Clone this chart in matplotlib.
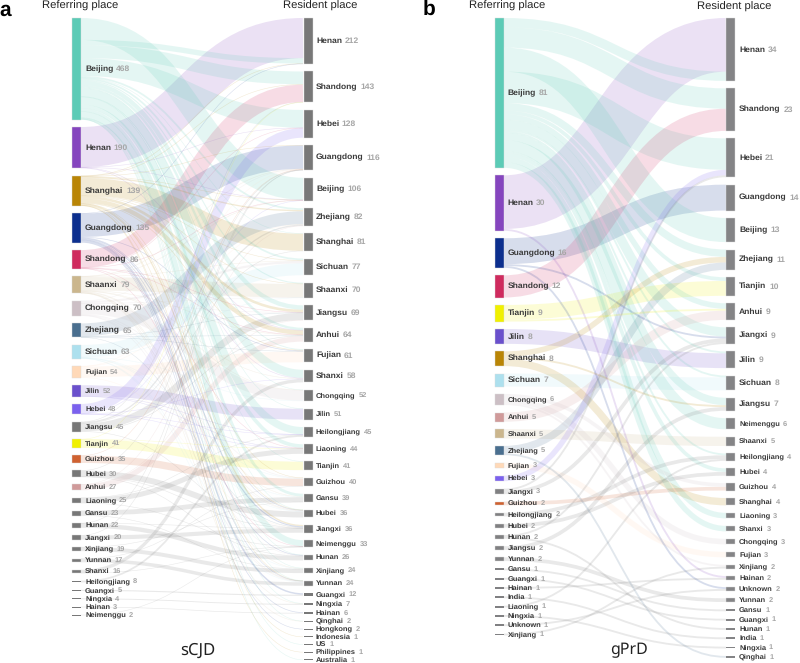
import matplotlib
matplotlib.use("Agg")

import matplotlib.pyplot as plt
from matplotlib.patches import PathPatch, Rectangle
from matplotlib.path import Path

plt.rcParams["font.family"] = ["Liberation Sans", "DejaVu Sans"]
plt.rcParams["text.hinting"] = "no_hinting"

# panel a, sCJD
scjd_left = ["Beijing", "Henan", "Shanghai", "Guangdong", "Shandong", "Shaanxi", "Chongqing", "Zhejiang",
             "Sichuan", "Fujian", "Jilin", "Hebei", "Jiangsu", "Tianjin", "Guizhou", "Hubei", "Anhui",
             "Liaoning", "Gansu", "Hunan", "Jiangxi", "Xinjiang", "Yunnan", "Shanxi", "Heilongjiang",
             "Guangxi", "Ningxia", "Hainan", "Neimenggu"]
scjd_left_values = [468, 190, 139, 135, 86, 79, 70, 65, 63, 54, 52, 48, 45, 41, 35, 30, 27, 25, 23, 22,
                    20, 19, 17, 16, 8, 5, 4, 3, 2]
scjd_right = ["Henan", "Shandong", "Hebei", "Guangdong", "Beijing", "Zhejiang", "Shanghai", "Sichuan",
              "Shaanxi", "Jiangsu", "Anhui", "Fujian", "Shanxi", "Chongqing", "Jilin", "Heilongjiang",
              "Liaoning", "Tianjin", "Guizhou", "Gansu", "Hubei", "Jiangxi", "Neimenggu", "Hunan",
              "Xinjiang", "Yunnan", "Guangxi", "Ningxia", "Hainan", "Qinghai", "Hongkong", "Indonesia",
              "US", "Philippines", "Australia"]
scjd_right_values = [212, 143, 128, 116, 106, 82, 81, 77, 70, 69, 64, 61, 58, 52, 51, 45, 44, 41, 40, 39,
                     36, 36, 33, 26, 24, 24, 12, 7, 6, 2, 2, 1, 1, 1, 1]
scjd_links = {
    "Beijing": {"Beijing": 101, "Henan": 25, "Shandong": 59, "Hebei": 82, "Zhejiang": 8, "Shanghai": 1,
                "Sichuan": 8, "Shaanxi": 5, "Jiangsu": 20, "Anhui": 11, "Fujian": 4, "Shanxi": 38,
                "Chongqing": 1, "Jilin": 1, "Heilongjiang": 34, "Liaoning": 17, "Tianjin": 2, "Gansu": 13,
                "Hubei": 1, "Neimenggu": 28, "Hunan": 1, "Xinjiang": 2, "Yunnan": 1, "Ningxia": 2,
                "Qinghai": 1, "US": 1, "Australia": 1},
    "Henan": {"Henan": 185, "Hebei": 1, "Beijing": 1, "Shanxi": 2, "Anhui": 1},
    "Shanghai": {"Shanghai": 79, "Anhui": 20, "Jiangsu": 12, "Zhejiang": 6, "Jiangxi": 6, "Henan": 1,
                 "Shandong": 2, "Beijing": 1, "Guangdong": 1, "Fujian": 3, "Sichuan": 2, "Philippines": 1,
                 "Indonesia": 1, "Shaanxi": 1, "Hubei": 1, "Yunnan": 1, "Guizhou": 1},
    "Guangdong": {"Guangdong": 108, "Guangxi": 7, "Jiangxi": 5, "Hunan": 3, "Hainan": 3, "Hongkong": 2,
                  "Fujian": 3, "Hubei": 2, "Henan": 1, "Yunnan": 1},
    "Shandong": {"Shandong": 80, "Hebei": 1, "Beijing": 1, "Jiangsu": 1, "Anhui": 1, "Neimenggu": 1,
                 "Liaoning": 1},
    "Shaanxi": {"Shaanxi": 62, "Gansu": 2, "Ningxia": 1, "Qinghai": 1, "Xinjiang": 2, "Chongqing": 1,
                "Sichuan": 2, "Shanxi": 2, "Hubei": 2, "Beijing": 1, "Guangdong": 1, "Yunnan": 1, "Anhui": 1},
    "Chongqing": {"Chongqing": 48, "Sichuan": 10, "Guizhou": 3, "Hubei": 2, "Yunnan": 3, "Jiangsu": 1,
                  "Guangdong": 1, "Hunan": 1, "Shaanxi": 1},
    "Zhejiang": {"Zhejiang": 60, "Anhui": 2, "Jiangxi": 1, "Fujian": 1, "Jiangsu": 1},
    "Sichuan": {"Sichuan": 55, "Chongqing": 2, "Yunnan": 1, "Guizhou": 1, "Xinjiang": 1, "Shaanxi": 1,
                "Gansu": 1, "Hubei": 1},
    "Fujian": {"Fujian": 50, "Jiangxi": 2, "Guangdong": 1, "Zhejiang": 1},
    "Jilin": {"Jilin": 50, "Heilongjiang": 1, "Liaoning": 1},
    "Hebei": {"Hebei": 44, "Shanxi": 1, "Liaoning": 1, "Heilongjiang": 1, "Beijing": 1},
    "Jiangsu": {"Jiangsu": 33, "Zhejiang": 6, "Anhui": 3, "Shandong": 1, "Shanghai": 1, "Jiangxi": 1},
    "Tianjin": {"Tianjin": 39, "Shandong": 1, "Liaoning": 1},
    "Guizhou": {"Guizhou": 34, "Guangdong": 1},
    "Hubei": {"Hubei": 27, "Guangdong": 1, "Hunan": 1, "Jiangxi": 1},
    "Anhui": {"Anhui": 25, "Jiangsu": 1, "Zhejiang": 1},
    "Liaoning": {"Liaoning": 23, "Heilongjiang": 1, "Neimenggu": 1},
    "Gansu": {"Gansu": 22, "Xinjiang": 1},
    "Hunan": {"Hunan": 20, "Guangdong": 1, "Jiangxi": 1},
    "Jiangxi": {"Jiangxi": 19, "Guangdong": 1},
    "Xinjiang": {"Xinjiang": 18, "Gansu": 1},
    "Yunnan": {"Yunnan": 16, "Guizhou": 1},
    "Shanxi": {"Shanxi": 15, "Neimenggu": 1},
    "Heilongjiang": {"Heilongjiang": 8},
    "Guangxi": {"Guangxi": 5},
    "Ningxia": {"Ningxia": 4},
    "Hainan": {"Hainan": 3},
    "Neimenggu": {"Neimenggu": 2},
}

# panel b, gPrD
gprd_left = ["Beijing", "Henan", "Guangdong", "Shandong", "Tianjin", "Jilin", "Shanghai", "Sichuan",
             "Chongqing", "Anhui", "Shaanxi", "Zhejiang", "Fujian", "Hebei", "Jiangxi", "Guizhou",
             "Heilongjiang", "Hubei", "Hunan", "Jiangsu", "Yunnan", "Gansu", "Guangxi", "Hainan", "India",
             "Liaoning", "Ningxia", "Unknown", "Xinjiang"]
gprd_left_values = [81, 30, 16, 12, 9, 8, 8, 7, 6, 5, 5, 5, 3, 3, 3, 2, 2, 2, 2, 2, 2, 1, 1, 1, 1, 1, 1, 1, 1]
gprd_right = ["Henan", "Shandong", "Hebei", "Guangdong", "Beijing", "Zhejiang", "Tianjin", "Anhui", "Jiangxi",
              "Jilin", "Sichuan", "Jiangsu", "Neimenggu", "Shaanxi", "Heilongjiang", "Hubei", "Guizhou",
              "Shanghai", "Liaoning", "Shanxi", "Chongqing", "Fujian", "Xinjiang", "Hainan", "Unknown",
              "Yunnan", "Gansu", "Guangxi", "Hunan", "India", "Ningxia", "Qinghai"]
gprd_right_values = [34, 23, 21, 14, 13, 11, 10, 9, 9, 9, 8, 7, 6, 5, 4, 4, 4, 4, 3, 3, 3, 3, 2, 2, 2, 2,
                     1, 1, 1, 1, 1, 1]
gprd_links = {
    "Beijing": {"Henan": 5, "Shandong": 11, "Beijing": 13, "Hebei": 17, "Zhejiang": 4, "Tianjin": 2, "Anhui": 3,
                "Jiangxi": 5, "Jilin": 1, "Sichuan": 1, "Jiangsu": 4, "Neimenggu": 6, "Heilongjiang": 1,
                "Hubei": 2, "Liaoning": 3, "Shanxi": 3},
    "Henan": {"Henan": 29, "Hainan": 1},
    "Guangdong": {"Guangdong": 14, "Jiangxi": 1, "Unknown": 1},
    "Shandong": {"Shandong": 12},
    "Tianjin": {"Tianjin": 8, "Anhui": 1},
    "Jilin": {"Jilin": 8},
    "Shanghai": {"Shanghai": 4, "Zhejiang": 3, "Jiangsu": 1},
    "Sichuan": {"Sichuan": 7},
    "Chongqing": {"Chongqing": 3, "Guizhou": 2, "Xinjiang": 1},
    "Anhui": {"Anhui": 5},
    "Shaanxi": {"Shaanxi": 5},
    "Zhejiang": {"Zhejiang": 4, "Qinghai": 1},
    "Fujian": {"Fujian": 3},
    "Hebei": {"Hebei": 3},
    "Jiangxi": {"Hebei": 1, "Jiangxi": 2},
    "Guizhou": {"Guizhou": 2},
    "Heilongjiang": {"Heilongjiang": 2},
    "Hubei": {"Hubei": 2},
    "Hunan": {"Hunan": 1, "Jiangxi": 1},
    "Jiangsu": {"Jiangsu": 2},
    "Yunnan": {"Yunnan": 2},
    "Gansu": {"Gansu": 1},
    "Guangxi": {"Guangxi": 1},
    "Hainan": {"Hainan": 1},
    "India": {"India": 1},
    "Liaoning": {"Heilongjiang": 1},
    "Ningxia": {"Ningxia": 1},
    "Unknown": {"Unknown": 1},
    "Xinjiang": {"Xinjiang": 1},
}

place_colors = {
    "Beijing": "#5ccbb6", "Henan": "#8545be", "Shanghai": "#b98506", "Guangdong": "#0c2f8e",
    "Shandong": "#cf2b5e", "Shaanxi": "#cbb68d", "Chongqing": "#ccbfc5", "Zhejiang": "#4a6f8f",
    "Sichuan": "#ade0ee", "Fujian": "#ffd9b8", "Jilin": "#6a50cc", "Hebei": "#7b61ee",
    "Tianjin": "#f0f000", "Guizhou": "#cf6130", "Anhui": "#d09a9a",
}
OTHER_COLOR = "#777777"
TOP_Y = 18
GAP = 7.45


def stack_nodes(names, values, scale):
    y = TOP_Y
    nodes = {}
    for name, value in zip(names, values):
        h = value * scale
        nodes[name] = {"y": y, "h": h, "value": value}
        y += h + GAP
    return nodes


def draw_links(ax, links, nodes_left, nodes_right, x0, x1, scale, first_out):
    left = list(nodes_left)
    left_rank = {n: i for i, n in enumerate(left)}
    right_rank = {n: i for i, n in enumerate(nodes_right)}
    segs = []
    # leaving each referring place, ordered by where the link ends
    for src in left:
        targets = sorted(links[src], key=right_rank.get)
        if src == "Beijing":
            targets = first_out + [t for t in targets if t not in first_out]
        for dst in targets:
            segs.append((src, dst, links[src][dst]))

    ya = {}
    cursor = {}
    for src, dst, val in segs:
        start = cursor.get(src, nodes_left[src]["y"])
        w = val * scale
        ya[(src, dst)] = start + w / 2
        cursor[src] = start + w

    # Henan's own patients sit on top of its node, the rest keep the left order
    def arrive_key(seg):
        if seg[0] == "Henan" and seg[1] == "Henan":
            return -1
        return left_rank[seg[0]]

    yb = {}
    cursor = {}
    for src, dst, val in sorted(segs, key=arrive_key):
        start = cursor.get(dst, nodes_right[dst]["y"])
        w = val * scale
        yb[(src, dst)] = start + w / 2
        cursor[dst] = start + w

    xm = (x0 + x1) / 2
    for src, dst, val in sorted(segs, key=lambda s: -s[2]):
        w = val * scale
        path = Path(
            [(x0, ya[(src, dst)]), (xm, ya[(src, dst)]), (xm, yb[(src, dst)]), (x1, yb[(src, dst)])],
            [Path.MOVETO, Path.CURVE4, Path.CURVE4, Path.CURVE4],
        )
        ax.add_patch(PathPatch(
            path,
            fill=False,
            edgecolor=place_colors.get(src, OTHER_COLOR),
            linewidth=max(w * 0.72, 0.4),
            alpha=0.16,
            capstyle="butt",
            zorder=1,
        ))


def draw_nodes(ax, nodes, x, width, label_x, color_fn):
    for name, node in nodes.items():
        h = max(node["h"], 1.0)
        mid = node["y"] + node["h"] / 2
        ax.add_patch(Rectangle((x, mid - h / 2), width, h, facecolor=color_fn(name),
                               edgecolor="#dddddd", linewidth=0.3 if h > 3 else 0, zorder=3))
        size = 6.1 if node["h"] >= 12.5 else 5.4
        label = ax.text(label_x, mid, name, fontsize=size, fontweight="bold", color="#3a3a3a",
                        ha="left", va="center", zorder=5)
        ax.annotate(str(node["value"]), xy=(1, 0.5), xycoords=label, xytext=(2, 0),
                    textcoords="offset points", fontsize=size, fontweight="bold", color="#a6a6a6",
                    ha="left", va="center", zorder=5)


fig = plt.figure(figsize=(8, 6.63), dpi=100)
ax = fig.add_axes([0, 0, 1, 1])
ax.set_xlim(0, 800)
ax.set_ylim(663, 0)
ax.axis("off")

# panel a
scale_a = 0.217
left_a = stack_nodes(scjd_left, scjd_left_values, scale_a)
right_a = stack_nodes(scjd_right, scjd_right_values, scale_a)
draw_links(ax, scjd_links, left_a, right_a, 81, 303, scale_a, ["Beijing", "Henan", "Shandong", "Hebei"])
draw_nodes(ax, left_a, 72, 9, 85, lambda n: place_colors.get(n, OTHER_COLOR))
draw_nodes(ax, right_a, 303.5, 9, 316, lambda n: "#787878")

# panel b
scale_b = 1.85
left_b = stack_nodes(gprd_left, gprd_left_values, scale_b)
right_b = stack_nodes(gprd_right, gprd_right_values, scale_b)
draw_links(ax, gprd_links, left_b, right_b, 504, 726, scale_b, ["Henan", "Shandong", "Beijing", "Hebei"])
draw_nodes(ax, left_b, 494.5, 9.5, 507.5, lambda n: place_colors.get(n, "#808082"))
draw_nodes(ax, right_b, 726, 9, 739, lambda n: "#848486")

# headers and panel letters
ax.text(42, 5.5, "Referring place", fontsize=8.1, color="#222222", va="center")
ax.text(283, 5.5, "Resident place", fontsize=8.1, color="#222222", va="center")
ax.text(469, 5.5, "Referring place", fontsize=8.1, color="#222222", va="center")
ax.text(697, 6.5, "Resident place", fontsize=8.1, color="#222222", va="center")
ax.text(-1, 10, "a", fontsize=15, fontweight="bold", color="black", va="center")
ax.text(423, 9, "b", fontsize=15, fontweight="bold", color="black", va="center")
ax.text(198, 650, "sCJD", fontsize=12, color="#222222", ha="center", va="center", family=["Noto Sans"])
ax.text(629, 650, "gPrD", fontsize=11.5, color="#222222", ha="center", va="center", family=["Noto Sans"])

fig.savefig("out.png", dpi=100)
plt.close(fig)
